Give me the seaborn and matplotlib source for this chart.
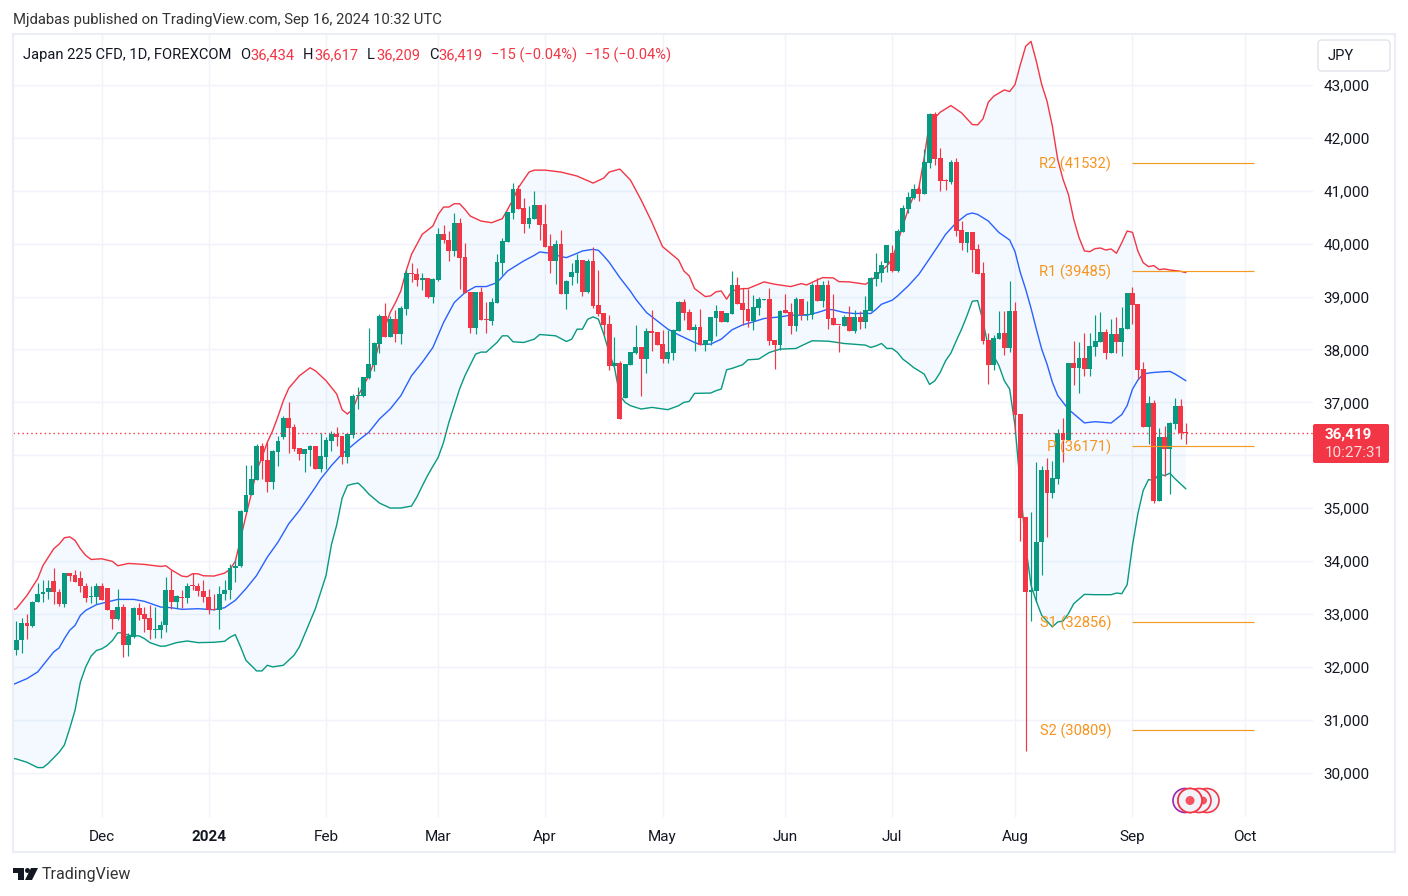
import matplotlib
matplotlib.use('Agg')
import matplotlib.pyplot as plt
from matplotlib.patches import Rectangle, Circle, Polygon, FancyBboxPatch
import seaborn as sns
import numpy as np

# Daily candles (one value per trading day)
open_prices = [
    32314, 32503, 32836, 32767, 33220, 33370, 33410, 33630, 33420, 33180,
    33780, 33740, 33685, 33535, 33320, 33315, 33535, 33497, 33083, 32905,
    33138, 32410, 32570, 33120, 33006, 32930, 32705, 32705, 32785, 33459,
    33220, 33320, 33295, 33535, 33535, 33440, 33320, 33088, 33083, 33370,
    33447, 33868, 33900, 34937, 35240, 35540, 36176, 35906, 35503, 36069,
    36340, 36704, 36528, 36132, 36031, 36107, 36176, 35748, 35975, 36277,
    36403, 36371, 35975, 36390, 37120, 37120, 37460, 37710, 38107, 38629,
    38239, 38572, 38296, 38761, 39440, 39422, 39321, 39346, 38987, 39309,
    40176, 40063, 39855, 40384, 39743, 39082, 38403, 39082, 38566, 38535,
    38875, 39630, 40025, 40573, 41025, 40667, 40365, 40460, 40723, 40365,
    39950, 39667, 39988, 39044, 39370, 39440, 39686, 39082, 39667, 38836,
    38686, 38478, 37692, 37742, 37082, 37704, 37931, 38044, 37818, 38346,
    38327, 38101, 37818, 37931, 38346, 38893, 38705, 38365, 38421, 38082,
    38157, 38591, 38723, 38516, 38667, 39214, 38874, 38761, 38535, 38780,
    38940, 38950, 38176, 38082, 38742, 38705, 38440, 38950, 38650, 38648,
    39214, 38912, 39214, 38591, 38472, 38440, 38610, 38346, 38610, 38516,
    38723, 39327, 39440, 39640, 39818, 39478, 40214, 40648, 40855, 41025,
    40930, 41516, 42459, 41610, 41195, 41157, 41535, 40252, 40006, 40214,
    39893, 39440, 38176, 37704, 38195, 38308, 38025, 38723, 36780, 34836,
    33409, 33440, 34352, 35723, 35296, 35553, 36421, 36283, 37742, 37648,
    37837, 37629, 38044, 38139, 38327, 37931, 38289, 38139, 38384, 39063,
    38855, 37629, 36535, 36987, 35138, 36346, 36120, 36597, 36931, 36434,
]
high_prices = [
    32874, 32930, 33006, 33245, 33591, 33635, 33635, 33868, 33470, 33780,
    33780, 33835, 33820, 33590, 33535, 33590, 33590, 33497, 33083, 33480,
    33195, 32640, 33132, 33214, 33138, 33176, 33138, 32874, 33704, 33836,
    33365, 33459, 33580, 33773, 33580, 33650, 33478, 33383, 33535, 33650,
    33950, 34025, 34970, 35818, 35818, 36207, 36239, 36245, 36094, 36365,
    36736, 37000, 36585, 36132, 36120, 36200, 36176, 36421, 36340, 36465,
    36535, 36371, 36403, 37157, 37283, 37472, 38403, 38140, 38667, 38874,
    38629, 38742, 38818, 39497, 39629, 39535, 39440, 39346, 39346, 40290,
    40346, 40233, 40573, 40478, 40006, 39082, 39082, 39176, 38893, 38968,
    39800, 40113, 40592, 41138, 41100, 40855, 40705, 40988, 40723, 40742,
    40176, 40063, 40252, 39308, 39629, 39799, 39686, 39705, 39944, 39497,
    38686, 38648, 38233, 37780, 37723, 37950, 38459, 38044, 38403, 38742,
    38327, 38365, 38365, 38384, 38912, 38950, 38761, 38478, 38761, 38176,
    38610, 38836, 38723, 38686, 39478, 39377, 39157, 39151, 39025, 38988,
    38950, 39157, 38176, 38742, 39044, 38887, 38988, 38950, 38912, 39252,
    39346, 39290, 39315, 39044, 38472, 38648, 38818, 38742, 38723, 39006,
    39365, 39818, 39667, 39969, 39969, 40270, 40723, 40969, 41120, 41120,
    41780, 42472, 42497, 41799, 41214, 41572, 41610, 40421, 40214, 40214,
    39987, 39648, 38308, 38270, 38723, 38723, 39289, 38893, 36780, 34836,
    34937, 35868, 35799, 35950, 35893, 36497, 36704, 37742, 38157, 38132,
    38308, 38308, 38648, 38705, 38384, 38572, 38610, 38799, 39063, 39176,
    38855, 37755, 37113, 37050, 36516, 36553, 36635, 37082, 37063, 36617,
]
low_prices = [
    32220, 32257, 32522, 32755, 33220, 33220, 33276, 33195, 33145, 33125,
    33620, 33597, 33410, 33232, 33200, 33180, 33258, 33070, 32710, 32893,
    32182, 32213, 32550, 32893, 32660, 32522, 32550, 32553, 32666, 33100,
    33120, 33120, 33200, 33459, 33333, 33220, 32993, 33080, 32710, 33258,
    33276, 33610, 33887, 34937, 35240, 35540, 35560, 35314, 35365, 35805,
    36315, 36044, 36088, 35918, 35692, 35805, 35748, 35692, 35748, 36088,
    36182, 35843, 35862, 36327, 36880, 37094, 37440, 37598, 37931, 38239,
    38239, 38139, 38100, 38654, 39270, 39195, 39120, 38968, 38875, 39290,
    40006, 39667, 39760, 39139, 39063, 38308, 38290, 38553, 38308, 38460,
    38875, 39403, 40025, 40460, 40648, 40195, 40290, 40460, 40063, 39931,
    39440, 39233, 39044, 38761, 39214, 39265, 39006, 39063, 38793, 38629,
    38270, 37616, 37692, 36685, 37082, 37704, 37912, 37119, 37553, 37969,
    38082, 37742, 37742, 37800, 38346, 38553, 38365, 37969, 38082, 37969,
    38082, 38258, 38516, 38516, 38667, 38855, 38459, 38421, 38365, 38648,
    38930, 38082, 37629, 37994, 38686, 38289, 38346, 38553, 38553, 38572,
    38912, 38799, 38384, 38459, 37950, 38440, 38346, 38308, 38384, 38403,
    38723, 39195, 39270, 39472, 39465, 39465, 40214, 40572, 40836, 40800,
    40930, 41421, 41478, 40987, 41006, 41120, 40138, 39874, 39836, 39459,
    39421, 38100, 37346, 37610, 38195, 37893, 37950, 36434, 34371, 30408,
    32874, 33226, 33730, 34459, 35201, 35459, 35880, 36283, 37327, 37176,
    37503, 37503, 37868, 38139, 37818, 37931, 37931, 37880, 38384, 38478,
    37440, 36535, 36214, 35100, 35138, 35616, 35270, 36497, 36308, 36209,
]
close_prices = [
    32515, 32836, 32767, 33232, 33383, 33420, 33497, 33410, 33180, 33780,
    33723, 33597, 33520, 33295, 33325, 33535, 33258, 33070, 32912, 33138,
    32410, 32585, 33120, 32987, 32912, 32692, 32724, 32800, 33459, 33220,
    33333, 33295, 33535, 33525, 33428, 33315, 33083, 33080, 33383, 33459,
    33868, 33912, 34956, 35252, 35553, 36176, 35899, 35503, 36082, 36270,
    36704, 36522, 36126, 36025, 36120, 36176, 35748, 35987, 36289, 36403,
    36352, 35975, 36403, 37120, 37132, 37472, 37723, 38126, 38629, 38239,
    38572, 38296, 38780, 39440, 39428, 39309, 39346, 38987, 39327, 40176,
    40063, 39855, 40384, 39723, 39063, 38403, 39082, 38553, 38553, 38893,
    39648, 40044, 40592, 41025, 40648, 40365, 40478, 40723, 40346, 39931,
    39667, 39988, 39044, 39302, 39459, 39686, 39082, 39667, 38818, 38667,
    38459, 37692, 37742, 36685, 37723, 37950, 38044, 37818, 38346, 38308,
    38082, 37818, 37950, 38365, 38893, 38686, 38365, 38421, 38082, 38176,
    38610, 38723, 38516, 38686, 39214, 38855, 38742, 38535, 38799, 38950,
    38950, 38157, 38082, 38723, 38686, 38440, 38950, 38648, 38660, 39214,
    38912, 39214, 38572, 38459, 38459, 38610, 38346, 38610, 38516, 38742,
    39346, 39459, 39591, 39969, 39478, 40233, 40667, 40874, 41025, 40930,
    41535, 42459, 41591, 41176, 41176, 41535, 40233, 40006, 40214, 39874,
    39421, 38157, 37704, 38214, 38308, 38025, 38723, 36761, 34824, 33409,
    33453, 34365, 35723, 35296, 35572, 36421, 36296, 37742, 37648, 37837,
    37629, 38063, 38157, 38327, 37931, 38289, 38139, 38403, 39063, 38837,
    37610, 36535, 36987, 35138, 36346, 36120, 36610, 36931, 36421, 36419,
]

# Bollinger bands, read at the trading days listed
upper_days = [
    -1, 0, 2, 4, 5, 7, 8, 9, 10, 11, 12, 13, 14, 16, 18, 19, 21, 24, 27, 28,
    29, 31, 32, 33, 34, 35, 37, 39, 40, 41, 42, 43, 44, 45, 46, 47, 48, 49, 50, 51,
    53, 55, 56, 58, 60, 61, 62, 63, 64, 66, 67, 68, 70, 71, 72, 73, 74, 76, 78, 79,
    80, 81, 82, 83, 84, 85, 87, 89, 91, 92, 93, 94, 96, 97, 99, 102, 105, 108, 110, 111,
    113, 115, 117, 119, 121, 124, 125, 126, 127, 129, 130, 131, 132, 133, 134, 136, 137, 140, 142, 145,
    147, 148, 150, 151, 153, 154, 156, 159, 160, 162, 163, 164, 165, 166, 167, 168, 169, 170, 171, 172,
    173, 175, 177, 179, 180, 181, 182, 183, 185, 186, 187, 188, 189, 190, 191, 192, 193, 194, 195, 196,
    197, 198, 199, 200, 201, 202, 203, 204, 205, 206, 207, 208, 209, 210, 211, 212, 213, 214, 215, 216,
    217, 218, 219,
]
upper_band = [
    33075, 33100, 33352, 33666, 33918, 34232, 34320, 34440, 34459, 34390, 34232, 34107, 34031, 34044, 33994, 33912, 33956, 33937, 33899, 33912,
    33836, 33717, 33704, 33761, 33761, 33723, 33717, 33773, 33843, 33994, 34421, 34860, 35270, 35710, 35962, 36245, 36465, 36736, 37032, 37264,
    37503, 37654, 37598, 37409, 37157, 36862, 36780, 36874, 37126, 37503, 37755, 38132, 38698, 38887, 39107, 39485, 39799, 40176, 40334, 40554,
    40692, 40692, 40755, 40755, 40648, 40522, 40428, 40396, 40472, 40648, 40837, 41057, 41353, 41390, 41390, 41353, 41278, 41145, 41240, 41353,
    41410, 41202, 40824, 40408, 39944, 39692, 39484, 39390, 39151, 39000, 39013, 39088, 39107, 38950, 39107, 39151, 39151, 39277, 39233, 39189,
    39245, 39220, 39315, 39359, 39352, 39283, 39277, 39233, 39296, 39484, 39579, 39704, 40019, 40333, 40648, 40899, 41057, 41623, 42315, 42378,
    42485, 42610, 42472, 42252, 42245, 42359, 42673, 42786, 42906, 42875, 43007, 43384, 43730, 43824, 43447, 43007, 42692, 42220, 41591, 41214,
    40931, 40459, 40113, 39862, 39849, 39906, 39918, 39880, 39899, 39818, 40019, 40239, 40214, 39862, 39641, 39566, 39585, 39509, 39522, 39503,
    39490, 39478, 39453,
]
basis_days = [
    -1, 2, 4, 6, 7, 8, 9, 10, 11, 12, 13, 15, 17, 19, 22, 24, 27, 29, 31, 34,
    37, 39, 41, 43, 45, 47, 49, 51, 53, 56, 57, 59, 61, 64, 66, 68, 70, 72, 74, 76,
    78, 80, 82, 84, 86, 88, 90, 92, 95, 97, 98, 100, 102, 103, 105, 106, 108, 109, 110, 111,
    113, 115, 116, 118, 120, 122, 124, 127, 128, 130, 132, 134, 136, 138, 140, 143, 145, 148, 150, 152,
    153, 155, 157, 159, 160, 161, 162, 164, 165, 167, 169, 171, 173, 174, 176, 178, 179, 180, 182, 184,
    186, 187, 188, 189, 190, 191, 192, 193, 194, 195, 197, 200, 202, 205, 207, 208, 209, 210, 211, 212,
    213, 215, 216, 217, 218, 219,
]
basis_band = [
    31650, 31779, 31905, 32157, 32283, 32358, 32534, 32692, 32786, 32975, 33069, 33176, 33226, 33276, 33276, 33239, 33132, 33119, 33088, 33100,
    33081, 33119, 33258, 33478, 33729, 34075, 34358, 34704, 34956, 35396, 35553, 35805, 36025, 36277, 36434, 36686, 36874, 37126, 37503, 37755,
    38038, 38510, 38887, 39076, 39189, 39189, 39264, 39484, 39673, 39780, 39843, 39818, 39755, 39736, 39818, 39862, 39893, 39874, 39767, 39650,
    39359, 39100, 38950, 38698, 38541, 38384, 38277, 38132, 38094, 38101, 38195, 38371, 38465, 38522, 38585, 38616, 38648, 38648, 38698, 38761,
    38748, 38698, 38679, 38685, 38679, 38761, 38855, 38931, 39012, 39201, 39421, 39717, 40019, 40176, 40396, 40553, 40579, 40553, 40428, 40210,
    40069, 39850, 39453, 39138, 38780, 38384, 38006, 37723, 37380, 37130, 36870, 36612, 36635, 36610, 36770, 36940, 37250, 37420, 37535, 37554,
    37566, 37580, 37585, 37535, 37472, 37409,
]
lower_days = [
    -1, 0, 2, 4, 5, 6, 8, 9, 10, 11, 12, 13, 14, 15, 16, 17, 18, 19, 20, 21,
    23, 24, 25, 27, 28, 30, 32, 34, 37, 39, 40, 41, 42, 43, 45, 46, 47, 48, 50, 52,
    53, 56, 58, 59, 60, 61, 62, 63, 64, 65, 66, 68, 70, 72, 74, 75, 76, 77, 78, 79,
    80, 81, 82, 83, 84, 86, 87, 88, 90, 91, 92, 93, 95, 97, 98, 101, 103, 104, 105, 106,
    107, 108, 109, 110, 111, 112, 113, 114, 115, 117, 119, 122, 124, 125, 126, 127, 130, 131, 132, 133,
    134, 136, 137, 139, 141, 143, 146, 147, 149, 152, 155, 159, 160, 161, 162, 163, 164, 165, 166, 167,
    168, 169, 170, 171, 172, 173, 174, 175, 176, 177, 178, 179, 180, 181, 182, 183, 184, 185, 186, 187,
    188, 189, 190, 191, 192, 194, 195, 196, 197, 198, 200, 202, 205, 206, 207, 208, 209, 210, 211, 212,
    213, 214, 215, 216, 217, 218, 219,
]
lower_band = [
    30280, 30260, 30197, 30097, 30097, 30178, 30385, 30523, 30837, 31182, 31715, 32000, 32204, 32310, 32342, 32404, 32498, 32645, 32641, 32597,
    32585, 32534, 32459, 32390, 32396, 32459, 32490, 32459, 32465, 32484, 32560, 32610, 32377, 32125, 31924, 31924, 32031, 32000, 32031, 32220,
    32377, 33100, 33729, 34308, 34685, 35189, 35428, 35456, 35475, 35380, 35267, 35097, 35003, 35003, 35040, 35210, 35418, 35616, 35792, 35962,
    36245, 36623, 36937, 37252, 37503, 37912, 37950, 37950, 38132, 38258, 38258, 38145, 38132, 38195, 38283, 38258, 38151, 38195, 38384, 38384,
    38572, 38616, 38572, 38289, 37943, 37660, 37126, 37000, 36937, 36874, 36905, 36862, 36937, 37000, 37019, 37170, 37176, 37220, 37252, 37616,
    37642, 37711, 37805, 37818, 37943, 38006, 38019, 38069, 38164, 38157, 38113, 38082, 38038, 38069, 38113, 38019, 38019, 37943, 37817, 37742,
    37660, 37597, 37534, 37339, 37409, 37566, 37786, 37931, 38163, 38384, 38635, 38912, 38924, 38541, 38038, 37880, 37692, 37409, 37251, 36560,
    35400, 34295, 33541, 33240, 32975, 32755, 32849, 32868, 33006, 33195, 33371, 33365, 33365, 33396, 33384, 33553, 34296, 34893, 35333, 35541,
    35522, 35648, 35616, 35660, 35553, 35459, 35365,
]

# Axis labels
month_days = [16, 36, 58, 79, 99, 121, 144, 164, 187, 209, 230]
month_labels = ['Dec', '2024', 'Feb', 'Mar', 'Apr', 'May', 'Jun', 'Jul', 'Aug', 'Sep', 'Oct']
price_ticks = [30000, 31000, 32000, 33000, 34000, 35000, 36000, 37000, 38000, 39000, 40000, 41000, 42000, 43000]
price_labels = ['30,000', '31,000', '32,000', '33,000', '34,000', '35,000', '', '37,000', '38,000', '39,000', '40,000', '41,000', '42,000', '43,000']

# Pivot levels
pivot_names = ['R2', 'R1', 'P', 'S1', 'S2']
pivot_levels = [41532, 39485, 36171, 32856, 30809]
last_price = 36419

up_color = '#089981'
down_color = '#f23645'
basis_color = '#2962ff'
pivot_color = '#f7941d'
grid_color = '#f0f3fa'
text_color = '#131722'

sns.set_theme(style='white')
plt.rcParams['font.family'] = ['Roboto', 'DejaVu Sans']

fig = plt.figure(figsize=(14.08, 8.96), dpi=100)
ax = fig.add_axes([13 / 1408, (896 - 817) / 896, 1300 / 1408, 782 / 896])

# Band fill, then the three lines
ax.fill(upper_days + lower_days[::-1], upper_band + lower_band[::-1], color='#2196f3', alpha=0.05, lw=0, zorder=1)
sns.lineplot(x=upper_days, y=upper_band, color=down_color, lw=1.0, estimator=None, sort=False, ax=ax, zorder=2)
sns.lineplot(x=basis_days, y=basis_band, color=basis_color, lw=1.0, estimator=None, sort=False, ax=ax, zorder=2)
sns.lineplot(x=lower_days, y=lower_band, color=up_color, lw=1.0, estimator=None, sort=False, ax=ax, zorder=2)

# Candles
opens = np.array(open_prices)
closes = np.array(close_prices)
days = np.arange(len(opens))
colors = np.where(closes >= opens, up_color, down_color)
ax.vlines(days, low_prices, high_prices, colors=colors, lw=0.85, zorder=3)
ax.bar(days, np.maximum(np.abs(closes - opens), 14), bottom=np.minimum(opens, closes), width=0.9, color=colors, lw=0, zorder=4)

# Last price line
ax.axhline(last_price, color=down_color, lw=1.0, ls=(0, (1, 2.2)), zorder=5)

# Pivot lines
for name, level in zip(pivot_names, pivot_levels):
    ax.hlines(level, 209, 231.8, color='#f59a23', lw=0.85, zorder=5)
    ax.annotate(f'{name} ({level})', (205, level), xytext=(0, -1), textcoords='offset points',
                color=pivot_color, fontsize=10.5, ha='right', va='center', zorder=6)

ax.set_xlim(-0.62, 242.8)
ax.set_ylim(29163, 43944)
ax.set_xticks(month_days)
ax.set_xticklabels(month_labels, fontsize=11, color=text_color)
ax.get_xticklabels()[1].set_fontweight('bold')
ax.set_yticks(price_ticks)
ax.set_yticklabels(price_labels, fontsize=11, color=text_color, va='center_baseline')
ax.yaxis.tick_right()
ax.tick_params(axis='x', length=0, pad=9)
ax.tick_params(axis='y', length=0, pad=7.5)
ax.set_axisbelow(True)
ax.grid(True, color=grid_color, lw=1.0)
sns.despine(ax=ax, left=True, right=True, top=True, bottom=True)
ax.patch.set_alpha(0)

# Everything around the chart sits on a pixel overlay
ov = fig.add_axes([0, 0, 1, 1], zorder=10)
ov.set_xlim(0, 1408)
ov.set_ylim(896, 0)
ov.axis('off')
ov.patch.set_alpha(0)

ov.add_patch(Rectangle((12.5, 34), 1382.5, 818, fill=False, ec='#eceef5', lw=1.5))

ov.text(13, 20, 'Mjdabas published on TradingView.com, Sep 16, 2024 10:32 UTC', fontsize=10.7, color='#333333', va='center')
ov.text(23, 55, 'Japan 225 CFD, 1D, FOREXCOM', fontsize=10.6, color=text_color, va='center')
header_parts = [(240, 'O', text_color), (250, '36,434', down_color), (303, 'H', text_color), (314, '36,617', down_color),
                (367, 'L', text_color), (376, '36,209', down_color), (429, 'C', text_color), (438, '36,419', down_color),
                (491, '\u221215 (\u22120.04%)', down_color), (585, '\u221215 (\u22120.04%)', down_color)]
for x_pos, label, col in header_parts:
    ov.text(x_pos, 55, label, fontsize=10.5, color=col, va='center')

# Currency button
ov.add_patch(FancyBboxPatch((1320, 42), 68, 27, boxstyle='round,pad=2,rounding_size=4', fc='white', ec='#e0e3eb', lw=1))
ov.text(1341, 56, 'JPY', fontsize=10.5, color=text_color, ha='center', va='center')

# Price tag
ov.add_patch(FancyBboxPatch((1315, 426), 72, 35, boxstyle='round,pad=2,rounding_size=2', fc=down_color, ec='none'))
ov.text(1348, 435, '36,419', fontsize=11, color='white', fontweight='bold', ha='center', va='center')
ov.text(1354.5, 453, '10:27:31', fontsize=11, color='#ffd9dc', ha='center', va='center')

# Stream replay badge
for cx_pos, edge in [(1185, '#9c27b0'), (1207, down_color), (1199, down_color), (1190, down_color)]:
    ov.add_patch(Circle((cx_pos, 800.5), 12, fc=grid_color, ec=edge, lw=1.2, zorder=3))
ov.add_patch(Circle((1203, 800.5), 4, fc='#f7525f', ec='none', zorder=3.5))
ov.add_patch(Circle((1190, 800.5), 12, fc=grid_color, ec=down_color, lw=1.2, zorder=4))
ov.add_patch(Circle((1190, 800.5), 4.5, fc='#f7525f', ec='none', zorder=5))

# TradingView logo
ov.add_patch(Polygon([(13, 868), (24, 868), (24, 880), (18, 880), (18, 873), (13, 873)], fc=text_color, ec='none'))
ov.add_patch(Circle((27.5, 870.5), 2.5, fc=text_color, ec='none'))
ov.add_patch(Polygon([(31, 868), (38, 868), (32, 880), (25, 880)], fc=text_color, ec='none'))
ov.text(42, 875, 'TradingView', fontsize=11.5, color='#333333', va='center')

plt.savefig('out.png', dpi=100)
